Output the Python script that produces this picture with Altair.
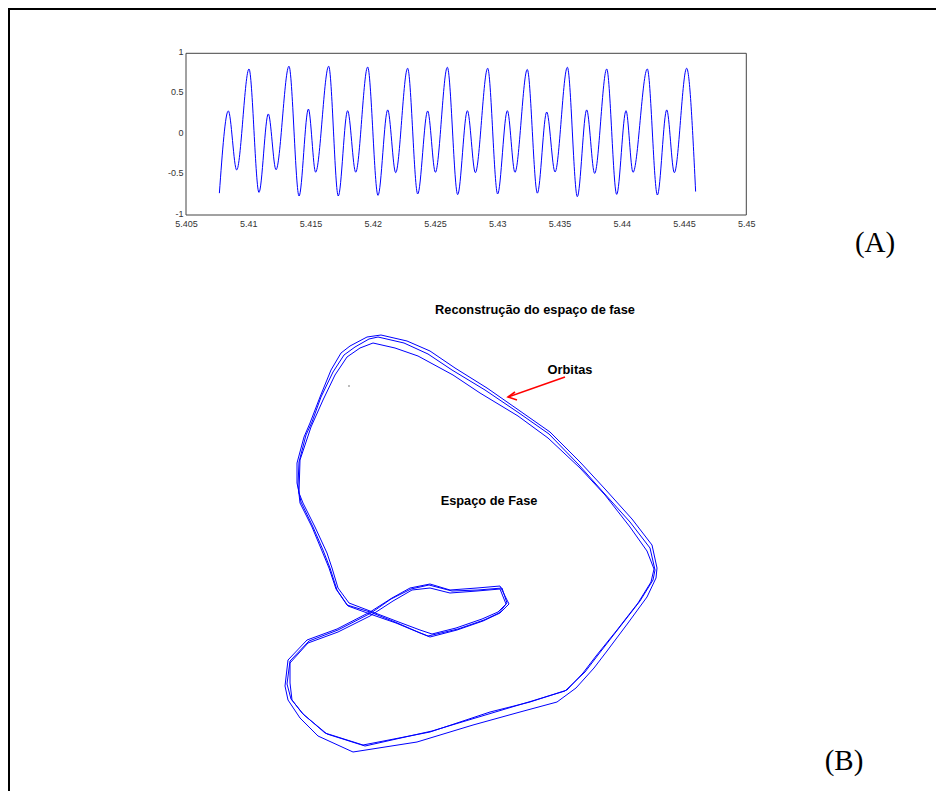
import altair as alt
import pandas as pd

# ---------------- Panel (A): time series ----------------
sig_t = [5.40768, 5.4084, 5.40907, 5.41006, 5.41086, 5.41161, 5.41223, 5.41327, 5.41408,
         5.41483, 5.41541, 5.41646, 5.41723, 5.41798, 5.41863, 5.41959, 5.42042, 5.4212,
         5.42184, 5.4228, 5.42361, 5.42441, 5.42503, 5.42599, 5.42682, 5.4276, 5.42824,
         5.42923, 5.43003, 5.43081, 5.43142, 5.43241, 5.43322, 5.43397, 5.43464, 5.43563,
         5.43643, 5.43718, 5.43782, 5.43879, 5.43959, 5.44034, 5.4409, 5.44205, 5.44286,
         5.44361, 5.44422, 5.44521, 5.44593]
sig_v = [-0.73, 0.287, -0.443, 0.806, -0.72, 0.25, -0.44, 0.84, -0.765, 0.31, -0.47, 0.84,
         -0.765, 0.29, -0.47, 0.83, -0.757, 0.30, -0.476, 0.815, -0.74, 0.287, -0.472, 0.827,
         -0.748, 0.29, -0.476, 0.815, -0.74, 0.29, -0.472, 0.80, -0.73, 0.274, -0.468, 0.827,
         -0.773, 0.30, -0.485, 0.806, -0.745, 0.29, -0.472, 0.806, -0.753, 0.30, -0.476,
         0.815, -0.71]
t_lim = [5.405, 5.45]
v_lim = [-1, 1]
x_ticks = [5.405, 5.41, 5.415, 5.42, 5.425, 5.43, 5.435, 5.44, 5.445, 5.45]
y_ticks = [-1, -0.5, 0, 0.5, 1]

# ---------------- Panel (B): phase-space reconstruction ----------------
orbA_u = [-0.445, -0.315, -0.2, -0.075, 0.085, 0.25, 0.4, 0.55, 0.675, 0.81, 0.91, 0.935, 0.93,
          0.885, 0.79, 0.685, 0.62, 0.53, 0.435, 0.25, 0.015, -0.265, -0.585, -0.76, -0.85, -0.91,
          -0.925, -0.91, -0.815, -0.665, -0.5, -0.39, -0.3, -0.2, -0.1, 0.035, 0.15, 0.195, 0.15,
          0.065, -0.065, -0.2, -0.25, -0.37, -0.5, -0.61, -0.665, -0.7, -0.735, -0.785, -0.845,
          -0.865, -0.865, -0.83, -0.8, -0.75, -0.695, -0.645, -0.6, -0.515, -0.445]
orbA_v = [1.025, 0.995, 0.945, 0.86, 0.76, 0.645, 0.54, 0.39, 0.255, 0.105, -0.025, -0.14, -0.19,
          -0.285, -0.415, -0.555, -0.64, -0.74, -0.81, -0.86, -0.925, -1.01, -1.06, -0.98, -0.89,
          -0.8, -0.73, -0.6, -0.5, -0.445, -0.36, -0.29, -0.24, -0.22, -0.25, -0.24, -0.23, -0.32,
          -0.365, -0.405, -0.45, -0.485, -0.465, -0.415, -0.37, -0.33, -0.25, -0.14, -0.05, 0.065,
          0.19, 0.285, 0.385, 0.515, 0.585, 0.715, 0.85, 0.935, 0.97, 1.015, 1.025]
orbB_u = [-0.485, -0.375, -0.26, -0.085, 0.05, 0.24, 0.39, 0.55, 0.675, 0.8, 0.885, 0.92, 0.905,
          0.84, 0.735, 0.63, 0.565, 0.485, 0.3, 0.1, -0.2, -0.535, -0.725, -0.84, -0.89, -0.9,
          -0.9, -0.81, -0.66, -0.5, -0.385, -0.29, -0.2, -0.1, 0.035, 0.15, 0.18, 0.14, 0.06,
          -0.07, -0.19, -0.25, -0.37, -0.5, -0.605, -0.66, -0.69, -0.715, -0.775, -0.835, -0.855,
          -0.85, -0.795, -0.735, -0.675, -0.615, -0.55, -0.485]
orbB_v = [0.985, 0.96, 0.92, 0.825, 0.735, 0.62, 0.51, 0.36, 0.225, 0.065, -0.055, -0.145, -0.21,
          -0.315, -0.45, -0.58, -0.665, -0.75, -0.81, -0.86, -0.96, -1.025, -0.965, -0.865, -0.8,
          -0.715, -0.615, -0.515, -0.46, -0.38, -0.305, -0.25, -0.24, -0.265, -0.255, -0.245,
          -0.32, -0.36, -0.395, -0.44, -0.47, -0.45, -0.405, -0.355, -0.315, -0.24, -0.14, -0.065,
          0.065, 0.185, 0.235, 0.4, 0.565, 0.7, 0.825, 0.915, 0.96, 0.985]
orbC_u = [-0.46, -0.33, -0.21, -0.09, 0.075, 0.245, 0.395, 0.545, 0.665, 0.8, 0.9, 0.925, 0.915,
          0.85, 0.745, 0.64, 0.575, 0.475, 0.31, 0.11, -0.19, -0.525, -0.715, -0.83, -0.895, -0.915,
          -0.9, -0.805, -0.66, -0.495, -0.395, -0.295, -0.205, -0.09, 0.04, 0.16, 0.185, 0.145,
          0.07, -0.06, -0.21, -0.26, -0.375, -0.5, -0.615, -0.67, -0.705, -0.74, -0.79, -0.85,
          -0.86, -0.855, -0.82, -0.79, -0.745, -0.685, -0.63, -0.575, -0.505, -0.46]
orbC_v = [1.015, 0.985, 0.93, 0.85, 0.75, 0.635, 0.53, 0.375, 0.24, 0.09, -0.04, -0.15, -0.2,
          -0.305, -0.44, -0.575, -0.66, -0.755, -0.805, -0.865, -0.955, -1.03, -0.97, -0.875, -0.795,
          -0.72, -0.605, -0.505, -0.45, -0.365, -0.295, -0.245, -0.225, -0.255, -0.25, -0.24,
          -0.315, -0.365, -0.4, -0.445, -0.48, -0.46, -0.41, -0.36, -0.325, -0.245, -0.14, -0.055,
          0.065, 0.185, 0.275, 0.39, 0.525, 0.59, 0.715, 0.84, 0.925, 0.965, 1.005, 1.015]

arrow_u = [0.475, 0.19]
arrow_v = [0.815, 0.715]
head_u = [0.225, 0.19, 0.235]
head_v = [0.74, 0.715, 0.70]
stray_u = [-0.605]
stray_v = [0.77]

label_texts = ["Reconstrução do espaço de fase", "Orbitas", "Espaço de Fase"]
label_u = [0.325, 0.5, 0.095]
label_v = [1.13, 0.83, 0.175]

W, H = 928, 783

# ---------------- build panel A ----------------
sig_df = pd.DataFrame({"t": sig_t, "x": sig_v})
box_df = pd.DataFrame({"t0": [t_lim[0]], "t1": [t_lim[1]], "v0": [v_lim[0]], "v1": [v_lim[1]]})

xs_a = alt.Scale(domain=t_lim, range=[178, 738.3], nice=False, zero=False)
ys_a = alt.Scale(domain=v_lim, range=[207, 45.3], nice=False, zero=False)
ax_common = dict(title=None, grid=False, ticks=False, domain=False, labelFont="Liberation Sans",
                 labelFontSize=9, labelColor="#333333", labelOverlap=False, labelFlush=False,
                 labelBound=False, labelExpr="'' + datum.value")
x_axis = alt.Axis(values=x_ticks, orient="bottom", offset=207 - H, labelPadding=4, **ax_common)
y_axis = alt.Axis(values=y_ticks, orient="left", offset=-178, labelPadding=3, labelOffset=-2,
                  **ax_common)

box = alt.Chart(box_df).mark_rect(fillOpacity=0, stroke="#444444", strokeWidth=1).encode(
    x=alt.X("t0:Q", scale=xs_a, axis=x_axis),
    x2="t1:Q",
    y=alt.Y("v0:Q", scale=ys_a, axis=y_axis),
    y2="v1:Q",
)
line_a = alt.Chart(sig_df).mark_line(color="#0000ff", strokeWidth=1, interpolate="monotone").encode(
    x=alt.X("t:Q", scale=xs_a, axis=x_axis),
    y=alt.Y("x:Q", scale=ys_a, axis=y_axis),
)
panel_a = alt.layer(box, line_a)

# ---------------- build panel B ----------------
rows = []
for name, us, vs in [("A", orbA_u, orbA_v), ("B", orbB_u, orbB_v), ("C", orbC_u, orbC_v)]:
    for i, (u, v) in enumerate(zip(us, vs)):
        rows.append({"orbit": name, "i": i, "u": u, "v": v})
orb_df = pd.DataFrame(rows)

xs_b = alt.Scale(domain=[-1, 1], range=[262, 662], nice=False, zero=False)
ys_b = alt.Scale(domain=[-1, 1], range=[732, 332], nice=False, zero=False)


def enc_b(extra=None):
    d = dict(x=alt.X("u:Q", scale=xs_b, axis=None), y=alt.Y("v:Q", scale=ys_b, axis=None))
    if extra:
        d.update(extra)
    return d


orbits = alt.Chart(orb_df).mark_line(color="#0000ff", strokeWidth=1, strokeJoin="round").encode(
    **enc_b({"detail": "orbit:N", "order": "i:Q"})
)
arrow_df = pd.DataFrame({"u": arrow_u, "v": arrow_v, "i": list(range(len(arrow_u)))})
head_df = pd.DataFrame({"u": head_u, "v": head_v, "i": list(range(len(head_u)))})
shaft = alt.Chart(arrow_df).mark_line(color="#ff0000", strokeWidth=1.6).encode(**enc_b({"order": "i:Q"}))
head = alt.Chart(head_df).mark_line(color="#ff0000", strokeWidth=1.6).encode(**enc_b({"order": "i:Q"}))
stray = alt.Chart(pd.DataFrame({"u": stray_u, "v": stray_v})).mark_square(
    size=3, color="#999999", opacity=1).encode(**enc_b())
lab_df = pd.DataFrame({"u": label_u, "v": label_v, "txt": label_texts})
labels_b = alt.Chart(lab_df).mark_text(font="Liberation Sans", fontSize=12.8, fontWeight="bold",
                                       color="#000000", align="center",
                                       baseline="alphabetic").encode(**enc_b({"text": "txt:N"}))
panel_b = alt.layer(orbits, shaft, head, stray, labels_b)

# ---------------- figure decorations ----------------
one = pd.DataFrame({"k": [0]})
border_top = alt.Chart(one).mark_rule(color="#000000", strokeWidth=2).encode(
    x=alt.value(0), x2=alt.value(W), y=alt.value(1))
border_left = alt.Chart(one).mark_rule(color="#000000", strokeWidth=2).encode(
    x=alt.value(1), y=alt.value(0), y2=alt.value(H))
lab_A = alt.Chart(one).mark_text(font="Liberation Serif", fontSize=29, color="#000000",
                                 align="center", baseline="alphabetic", text="(A)").encode(
    x=alt.value(867), y=alt.value(244))
lab_B = alt.Chart(one).mark_text(font="Liberation Serif", fontSize=29, color="#000000",
                                 align="center", baseline="alphabetic", text="(B)").encode(
    x=alt.value(836), y=alt.value(762))
deco = alt.layer(border_top, border_left, lab_A, lab_B)

chart = alt.layer(panel_a, panel_b, deco).resolve_scale(
    x="independent", y="independent"
).properties(
    width=W, height=H, autosize=alt.AutoSizeParams(type="none"), padding=0,
    background="#ffffff",
).configure_view(strokeWidth=0)

chart.save("out.html", embed_options={"renderer": "svg", "actions": False})
